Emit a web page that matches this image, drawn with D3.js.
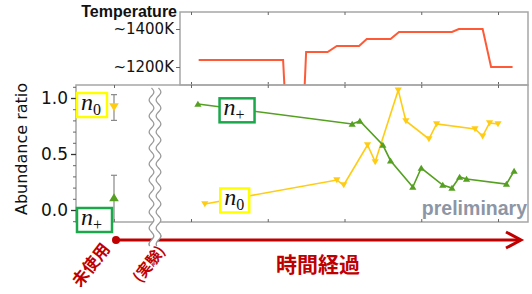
<!DOCTYPE html>
<html>
<head>
<meta charset="utf-8">
<script src="https://cdn.jsdelivr.net/npm/d3@7"></script>
<style>
  body { margin: 0; background: #fff; }
  svg { display: block; }
</style>
</head>
<body>
<div id="chart"></div>
<script>
// ---- data ------------------------------------------------------------------
// time after the break, one unit per tick
const timeTicks = [0, 1, 2, 3, 4];
const tempTicks = [1200, 1400];
const tempTickLabels = ["~1200K", "~1400K"];
const ratioTicks = [0, 0.5, 1.0];
const ratioMinorTicks = [-0.1, 0.1, 0.2, 0.3, 0.4, 0.6, 0.7, 0.8, 0.9, 1.1];

const tempTime = [0.10, 1.20, 1.23, 1.47, 1.50, 1.78, 1.90, 2.19, 2.29, 2.60, 2.71, 3.40, 3.49, 3.80, 3.91, 4.19];
const tempK    = [1237, 1237, 1000, 1000, 1279, 1279, 1311, 1311, 1347, 1347, 1384, 1384, 1400, 1400, 1200, 1200];

const plusTime  = [0.09, 2.10, 2.20, 2.50, 2.60, 2.89, 3.00, 3.28, 3.40, 3.50, 3.59, 4.11, 4.21];
const plusRatio = [0.946, 0.768, 0.795, 0.58, 0.44, 0.205, 0.375, 0.223, 0.196, 0.295, 0.277, 0.232, 0.348];

const zeroTime  = [0.18, 1.90, 1.99, 2.30, 2.40, 2.70, 2.80, 3.10, 3.20, 3.70, 3.80, 3.89, 4.00];
const zeroRatio = [0.054, 0.268, 0.223, 0.58, 0.43, 1.07, 0.795, 0.634, 0.768, 0.723, 0.66, 0.777, 0.768];

// the unused sample, left of the break
const unusedCategory = ["未使用"];
const unusedSeries = ["zero", "plus"];
const unusedRatio = [0.92, 0.11];
const unusedLow   = [0.80, -0.12];
const unusedHigh  = [1.03, 0.31];

// ---- layout ----------------------------------------------------------------
const W = 532, H = 294;
const mainBox = { x0: 76, x1: 528, y0: 85, y1: 222 };
const topBox = { x0: 180, x1: 528, y0: 12, y1: 85 };
const breakX = 155;

const C = {
  plus: "#55a020",
  zero: "#ffcc14",
  temp: "#ff5a36",
  red: "#c00000",
  frame: "#a6a6a6",
  tick: "#666"
};

const x = d3.scaleLinear().domain([0, 4]).range([191, 498]);
const xLeft = d3.scalePoint().domain(unusedCategory).range([mainBox.x0, breakX - 3]).padding(0.5);
const y = d3.scaleLinear().domain([0, 1]).range([210, 98]);
const yT = d3.scaleLinear().domain([1200, 1400]).range([67, 29]);

const svg = d3.select("#chart").append("svg")
  .attr("width", W).attr("height", H)
  .attr("viewBox", `0 0 ${W} ${H}`)
  .style("font-family", "'DejaVu Sans', sans-serif");

const defs = svg.append("defs");
defs.append("clipPath").attr("id", "clipTop").append("rect")
  .attr("x", topBox.x0).attr("y", topBox.y0)
  .attr("width", topBox.x1 - topBox.x0).attr("height", topBox.y1 - topBox.y0);
defs.append("clipPath").attr("id", "clipMain").append("rect")
  .attr("x", mainBox.x0).attr("y", mainBox.y0)
  .attr("width", mainBox.x1 - mainBox.x0).attr("height", mainBox.y1 - mainBox.y0);

// ---- temperature panel -----------------------------------------------------
svg.append("rect")
  .attr("x", topBox.x0).attr("y", topBox.y0)
  .attr("width", topBox.x1 - topBox.x0).attr("height", topBox.y1 - topBox.y0)
  .attr("fill", "none").attr("stroke", C.frame).attr("stroke-width", 1.5);

function innerTicks(g) {
  g.select(".domain").remove();
  g.selectAll(".tick line").attr("stroke", C.tick);
  g.selectAll(".tick text").remove();
}

svg.append("g").attr("transform", `translate(0,${topBox.y0})`)
  .call(d3.axisBottom(x).tickValues(timeTicks).tickSize(3)).call(innerTicks);
svg.append("g").attr("transform", `translate(0,${topBox.y1})`)
  .call(d3.axisTop(x).tickValues(timeTicks).tickSize(3)).call(innerTicks);

const tAxis = svg.append("g").attr("transform", `translate(${topBox.x0},0)`)
  .call(d3.axisLeft(yT).tickValues(tempTicks).tickSize(4).tickPadding(2)
    .tickFormat((d, i) => tempTickLabels[i]));
tAxis.select(".domain").remove();
tAxis.selectAll(".tick line").attr("stroke", C.tick);
tAxis.selectAll(".tick text")
  .attr("fill", "#111").style("font-size", "15px")
  .style("font-family", "'DejaVu Sans', sans-serif");

svg.append("text")
  .attr("x", 177).attr("y", 17).attr("text-anchor", "end")
  .style("font-family", "'Liberation Sans', Arial, sans-serif")
  .style("font-weight", "bold").style("font-size", "16px")
  .attr("fill", "#111").text("Temperature");

svg.append("path")
  .datum(d3.zip(tempTime, tempK))
  .attr("clip-path", "url(#clipTop)")
  .attr("fill", "none").attr("stroke", C.temp).attr("stroke-width", 2)
  .attr("d", d3.line().x(d => x(d[0])).y(d => yT(d[1])));

// ---- abundance panel -------------------------------------------------------
svg.append("rect")
  .attr("x", mainBox.x0).attr("y", mainBox.y0)
  .attr("width", mainBox.x1 - mainBox.x0).attr("height", mainBox.y1 - mainBox.y0)
  .attr("fill", "none").attr("stroke", C.frame).attr("stroke-width", 1.5);

svg.append("g").attr("transform", `translate(0,${mainBox.y0})`)
  .call(d3.axisBottom(x).tickValues(timeTicks).tickSize(3)).call(innerTicks);
svg.append("g").attr("transform", `translate(0,${mainBox.y1})`)
  .call(d3.axisTop(x).tickValues(timeTicks).tickSize(3)).call(innerTicks);
svg.append("g").attr("transform", `translate(0,${mainBox.y0})`)
  .call(d3.axisBottom(xLeft).tickSize(3)).call(innerTicks);
svg.append("g").attr("transform", `translate(0,${mainBox.y1})`)
  .call(d3.axisTop(xLeft).tickSize(3)).call(innerTicks);

const yMinor = svg.append("g").attr("transform", `translate(${mainBox.x0},0)`)
  .call(d3.axisLeft(y).tickValues(ratioMinorTicks).tickSize(3));
yMinor.select(".domain").remove();
yMinor.selectAll(".tick text").remove();
yMinor.selectAll(".tick line").attr("stroke", C.tick);

const yAxis = svg.append("g").attr("transform", `translate(${mainBox.x0},0)`)
  .call(d3.axisLeft(y).tickValues(ratioTicks).tickSize(5).tickPadding(3)
    .tickFormat(d3.format(".1f")));
yAxis.select(".domain").remove();
yAxis.selectAll(".tick line").attr("stroke", "#333").attr("stroke-width", 1.3);
yAxis.selectAll(".tick text")
  .attr("fill", "#111").style("font-size", "17px")
  .style("font-family", "'DejaVu Sans', sans-serif");

svg.append("text")
  .attr("transform", "translate(27,149) rotate(-90)")
  .attr("text-anchor", "middle")
  .style("font-size", "16px").attr("fill", "#111")
  .text("Abundance ratio");

// triangle markers
const triUp = (s) => `M0,${-s * 0.55}L${s * 0.6},${s * 0.45}L${-s * 0.6},${s * 0.45}Z`;
const triDown = (s) => `M0,${s * 0.55}L${s * 0.6},${-s * 0.45}L${-s * 0.6},${-s * 0.45}Z`;

const plot = svg.append("g").attr("clip-path", "url(#clipMain)");
const line = d3.line().x(d => x(d[0])).y(d => y(d[1]));

plot.append("path").datum(d3.zip(zeroTime, zeroRatio))
  .attr("fill", "none").attr("stroke", C.zero).attr("stroke-width", 1.6)
  .attr("d", line);
plot.selectAll(".mz").data(d3.zip(zeroTime, zeroRatio)).join("path")
  .attr("transform", d => `translate(${x(d[0])},${y(d[1])})`)
  .attr("d", triDown(6)).attr("fill", C.zero);

plot.append("path").datum(d3.zip(plusTime, plusRatio))
  .attr("fill", "none").attr("stroke", C.plus).attr("stroke-width", 1.6)
  .attr("d", line);
plot.selectAll(".mp").data(d3.zip(plusTime, plusRatio)).join("path")
  .attr("transform", d => `translate(${x(d[0])},${y(d[1])})`)
  .attr("d", triUp(6)).attr("fill", C.plus);

// unused sample with error bars
const ux = xLeft(unusedCategory[0]);
unusedSeries.forEach((s, i) => {
  const g = plot.append("g");
  g.append("line").attr("x1", ux).attr("x2", ux)
    .attr("y1", y(unusedLow[i])).attr("y2", y(unusedHigh[i]))
    .attr("stroke", "#888").attr("stroke-width", 1.2);
  [unusedLow[i], unusedHigh[i]].forEach(v => {
    g.append("line").attr("x1", ux - 3).attr("x2", ux + 3)
      .attr("y1", y(v)).attr("y2", y(v))
      .attr("stroke", "#888").attr("stroke-width", 1.2);
  });
  g.append("path")
    .attr("transform", `translate(${ux},${y(unusedRatio[i])})`)
    .attr("d", s === "zero" ? triDown(8) : triUp(8))
    .attr("fill", s === "zero" ? C.zero : C.plus);
});

svg.append("text")
  .attr("x", mainBox.x1 - 1).attr("y", 215).attr("text-anchor", "end")
  .style("font-family", "'Liberation Sans', Arial, sans-serif")
  .style("font-weight", "bold").style("font-size", "19.5px")
  .attr("fill", "#8c96a6").text("preliminary");

// ---- series labels ---------------------------------------------------------
function seriesLabel(cx, cy, w, sub, color) {
  const g = svg.append("g").attr("transform", `translate(${cx},${cy})`);
  g.append("rect")
    .attr("x", -w / 2).attr("y", -12).attr("width", w).attr("height", 24)
    .attr("fill", "#fff").attr("stroke", color).attr("stroke-width", 2.5);
  const t = g.append("text")
    .attr("x", -w / 2 + 4).attr("y", 5)
    .style("font-family", "'Liberation Serif', 'Times New Roman', serif")
    .attr("fill", "#111");
  t.append("tspan").style("font-style", "italic").style("font-size", "24px").text("n");
  t.append("tspan").attr("dy", 5).style("font-size", "16px").text(sub);
}
seriesLabel(92, 105, 30, "0", "#ffff00");
seriesLabel(94.5, 220, 35, "+", "#1aa84a");
seriesLabel(x(0.6), y(0.89), 35, "+", "#1aa84a");
seriesLabel(x(0.57), y(0.085), 29, "0", "#ffff00");

// ---- broken-axis wave ------------------------------------------------------
const wave = (cx) => {
  const pts = [];
  for (let yy = 88; yy <= 246; yy += 2) {
    pts.push([cx + 2.6 * Math.sin((yy - 88) / 16 * 2 * Math.PI), yy]);
  }
  return pts;
};
const wl = wave(breakX - 3.5), wr = wave(breakX + 3.5);
function drawWave(l, r) {
  svg.append("path")
    .attr("d", d3.line()(l.concat(r.slice().reverse())) + "Z")
    .attr("fill", "#fff");
  [l, r].forEach(p => svg.append("path")
    .attr("d", d3.line().curve(d3.curveBasis)(p))
    .attr("fill", "none").attr("stroke", "#999").attr("stroke-width", 1.3));
}
drawWave(wl, wr);

// ---- time arrow ------------------------------------------------------------
const arrowY = 240;
svg.append("line")
  .attr("x1", ux + 2).attr("x2", 520).attr("y1", arrowY).attr("y2", arrowY)
  .attr("stroke", C.red).attr("stroke-width", 3);
svg.append("polyline")
  .attr("points", `506,232 521,${arrowY} 506,248`)
  .attr("fill", "none").attr("stroke", C.red).attr("stroke-width", 3)
  .attr("stroke-linejoin", "miter");
svg.append("circle").attr("cx", ux + 2).attr("cy", arrowY).attr("r", 4).attr("fill", C.red);

// the wave also cuts the arrow
drawWave(wl.filter(p => p[1] > 230), wr.filter(p => p[1] > 230));

const cjk = "'Noto Sans CJK JP', sans-serif";
svg.append("text")
  .attr("transform", "translate(91,265) rotate(-52)")
  .attr("text-anchor", "middle").attr("dy", "0.35em")
  .style("font-family", cjk).style("font-weight", "bold").style("font-size", "16.5px")
  .attr("fill", C.red).text("未使用");
svg.append("text")
  .attr("transform", "translate(149,264) rotate(-52)")
  .attr("text-anchor", "middle").attr("dy", "0.35em")
  .style("font-family", cjk).style("font-weight", "bold").style("font-size", "15px")
  .attr("fill", C.red).text("(実験)");
svg.append("text")
  .attr("x", 318).attr("y", 272).attr("text-anchor", "middle")
  .style("font-family", cjk).style("font-weight", "bold").style("font-size", "21px")
  .attr("fill", C.red).text("時間経過");
</script>
</body>
</html>
